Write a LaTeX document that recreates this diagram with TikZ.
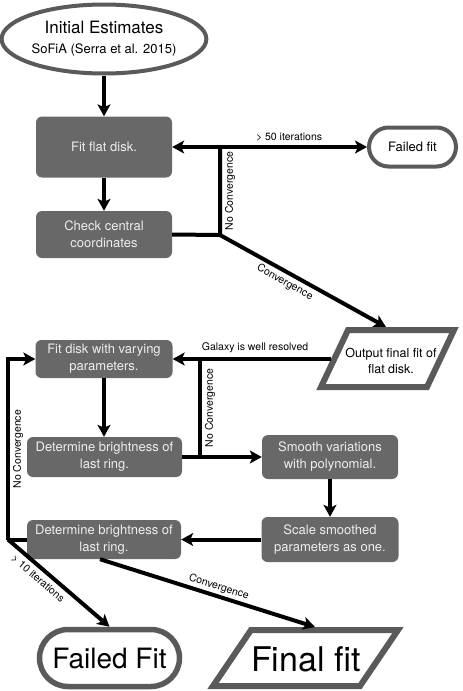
\documentclass[tikz,border=0pt]{standalone}
\usepackage{fontspec}
\setmainfont{TeX Gyre Heros}
\usetikzlibrary{arrows.meta,shapes.geometric,shapes.misc}
\definecolor{boxgray}{HTML}{686868}
\definecolor{boxtext}{HTML}{EEEEEE}
\definecolor{edgegray}{HTML}{5A5A5A}
\begin{document}
\begin{tikzpicture}[x=1pt,y=-1pt,
  proc/.style={fill=boxgray,rounded corners=6pt,text=boxtext,font=\fontsize{13}{17}\selectfont,align=center,inner sep=0pt},
  tip/.tip={Stealth[length=12pt,width=13pt,inset=3pt]},
  flow/.style={line width=4pt,-tip},
  plain/.style={line width=4pt},
  lbl/.style={font=\fontsize{10.5}{12}\selectfont,inner sep=1pt},
  term/.style={rounded rectangle,draw=edgegray,inner sep=0pt}]
\useasboundingbox (0,0) rectangle (463,691);

% nodes
\node[ellipse,draw=edgegray,line width=4pt,minimum width=199pt,minimum height=69pt,inner sep=0pt,align=center,font=\fontsize{17}{20}\selectfont] (init) at (104,39)
  {Initial Estimates\\{\fontsize{13}{15}\selectfont SoFiA (Serra et al. 2015)}};
\node[proc,minimum width=136pt,minimum height=61pt] (fit1) at (104,147) {Fit flat disk.};
\node[proc,minimum width=136pt,minimum height=47pt] (check) at (104,234.5) {Check central\\coordinates};
\node[term,line width=4pt,minimum width=87pt,minimum height=39pt,font=\fontsize{13}{15}\selectfont] (failA) at (412.5,147) {Failed fit};
\node[align=center,font=\fontsize{12.5}{16}\selectfont,inner sep=0pt] (out) at (391,361) {Output final fit of\\flat disk.};
\draw[edgegray,line width=6pt] (348,330) -- (454,330) -- (427,387) -- (321,387) -- cycle;
\node[proc,minimum width=137pt,minimum height=38pt] (fitvar) at (104,359) {Fit disk with varying\\parameters.};
\node[proc,minimum width=155pt,minimum height=40pt] (det1) at (104.5,457) {Determine brightness of\\last ring.};
\node[proc,minimum width=136pt,minimum height=44pt] (smooth) at (330,457) {Smooth variations\\with polynomial.};
\node[proc,minimum width=137pt,minimum height=45pt] (scale) at (330,539.5) {Scale smoothed\\parameters as one.};
\node[proc,minimum width=154pt,minimum height=39pt] (det2) at (104,539.5) {Determine brightness of\\last ring.};
\node[term,line width=5.5pt,minimum width=140pt,minimum height=57pt,font=\fontsize{28}{30}\selectfont] (failB) at (109.5,658) {Failed Fit};
\node[font=\fontsize{34}{36}\selectfont,inner sep=0pt] (final) at (306,659) {Final fit};
\draw[edgegray,line width=6pt] (251,630) -- (398,630) -- (360,686) -- (213,686) -- cycle;

% coordinates
\coordinate (J1) at (220,235);
\coordinate (J1top) at (220,147);
\coordinate (outtop) at (386,327);
\coordinate (outleft) at (331,359);
\coordinate (J2) at (200,457);
\coordinate (J2top) at (200,359);
\coordinate (J3) at (8,539.5);
\coordinate (J3top) at (8,359);
\coordinate (finaltop) at (315,627);

% connectors
\draw[flow] (init.south) -- (fit1.north);
\draw[flow] (fit1.south) -- (check.north);
\draw[plain] (check.east) -- (J1) -- node[lbl,sloped,below=2pt]{No Convergence} (J1top);
\draw[line width=4pt,tip-tip] (fit1.east) -- node[lbl,above=3pt,pos=0.6]{> 50 iterations} (failA.west);
\draw[flow] (J1) -- node[lbl,sloped,below=2pt,pos=0.42]{Convergence} (outtop);
\draw[flow] (outleft) -- node[lbl,above=3pt,pos=0.48]{Galaxy is well resolved} (fitvar.east);
\draw[plain] (J2) -- node[lbl,sloped,below=2pt]{No Convergence} (J2top);
\draw[flow] (fitvar.south) -- (fitvar.south |- det1.north);
\draw[flow] (det1.east) -- (smooth.west);
\draw[flow] (smooth.south) -- (scale.north);
\draw[flow] (scale.west) -- (det2.east);
\draw[plain] (det2.west) -- (J3);
\draw[flow] (J3) -- node[lbl,sloped,below=2pt]{No Convergence} (J3top) -- (fitvar.west);
\draw[flow] (J3) -- node[lbl,sloped,below=3pt,pos=0.36]{> 10 iterations} (failB.north);
\draw[flow] ([xshift=-4pt]det2.south) -- node[lbl,sloped,above=1pt,pos=0.54]{Convergence} (finaltop);
\end{tikzpicture}
\end{document}
